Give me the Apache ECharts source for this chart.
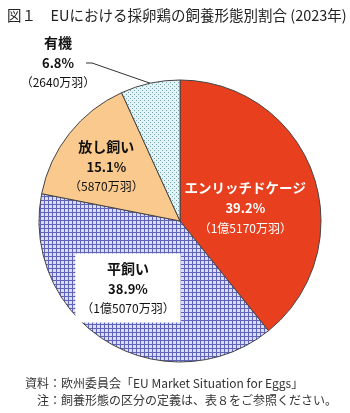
<!DOCTYPE html>
<html><head><meta charset="utf-8">
<script src="https://cdn.jsdelivr.net/npm/echarts@6/dist/echarts.min.js"></script>
<style>html,body{margin:0;padding:0;background:#fff}#c{width:350px;height:413px}</style>
</head><body><div id="c"></div>
<script>
const categories = ['エンリッチドケージ', '平飼い', '放し飼い', '有機'];
const shares = [39.2, 38.9, 15.1, 6.8];
const counts = ['1億5170万羽', '1億5070万羽', '5870万羽', '2640万羽'];
const titleText = '図１　EUにおける採卵鶏の飼養形態別割合 (2023年)';
const notes = ['資料：欧州委員会「EU Market Situation for Eggs」', '注：飼養形態の区分の定義は、表８をご参照ください。'];

function makePattern(kind) {
  const c = document.createElement('canvas');
  const ctx = c.getContext('2d');
  if (kind === 'grid') {
    c.width = 4; c.height = 4;
    ctx.fillStyle = '#d9dcf2'; ctx.fillRect(0, 0, 4, 4);
    ctx.fillStyle = '#5f64b8';
    ctx.fillRect(0, 0, 4, 1); ctx.fillRect(0, 0, 1, 4);
  } else {
    c.width = 4; c.height = 4;
    ctx.fillStyle = '#e4f4f6'; ctx.fillRect(0, 0, 4, 4);
    ctx.fillStyle = '#6fa6b0';
    ctx.fillRect(0, 0, 1, 1); ctx.fillRect(2, 2, 1, 1);
  }
  return { image: c, repeat: 'repeat' };
}

const fills = ['#e8401e', makePattern('grid'), '#f9c98d', makePattern('dots')];
const FONT = '"Noto Sans CJK JP", sans-serif';

function labelFor(i) {
  const white = i === 0;
  const col = white ? '#fff' : '#111';
  const base = {
    show: true,
    position: i === 3 ? 'outside' : 'inside',
    fontFamily: FONT,
    lineHeight: 20,
    formatter: p => '{n|' + p.name + '}\n{v|' + p.value + '%}\n{c|（' + counts[p.dataIndex] + '）}',
    rich: {
      n: { fontFamily: FONT, fontSize: i === 0 ? 13.5 : 14, fontWeight: 'bold', color: col, lineHeight: 21, align: 'center' },
      v: { fontFamily: FONT, fontSize: 13, fontWeight: 'bold', color: col, lineHeight: 20, align: 'center' },
      c: { fontFamily: FONT, fontSize: 12, color: col, lineHeight: 19, align: 'center' }
    }
  };
  if (i === 0) base.offset = [-4, 11];
  if (i === 1) { base.offset = [-14, 4]; base.backgroundColor = '#fff'; base.padding = [5, 6, 4, 6]; }
  if (i === 2) base.offset = [-16, -9];
  return base;
}

const chart = echarts.init(document.getElementById('c'), null, { renderer: 'canvas' });
chart.setOption({
  animation: false,
  backgroundColor: '#fff',
  title: {
    text: titleText, left: 2, top: 3,
    textStyle: { fontFamily: FONT, fontSize: 14.5, fontWeight: 'normal', color: '#222' }
  },
  graphic: [
    { type: 'text', left: 25, top: 377, style: { text: notes[0], font: '12px ' + FONT, fill: '#333' } },
    { type: 'text', left: 37, top: 394, style: { text: notes[1], font: '12px ' + FONT, fill: '#333' } }
  ],
  series: [{
    type: 'pie',
    center: [180, 221],
    radius: 141,
    startAngle: 90,
    clockwise: true,
    avoidLabelOverlap: false,
    itemStyle: { borderColor: '#444', borderWidth: 1 },
    labelLine: { show: true, lineStyle: { color: '#333', width: 1 }, length: 10, length2: 10 },
    labelLayout: function (params) {
      if (params.dataIndex !== 3) return {};
      const lx = 58, ly = 62;
      const p0 = params.labelLinePoints ? params.labelLinePoints[0] : [150, 83];
      return {
        x: lx, y: ly, align: 'center', verticalAlign: 'middle',
        labelLinePoints: [p0, [lx + 34, ly + 1], [lx + 28, ly + 1]]
      };
    },
    data: categories.map((name, i) => ({
      name: name, value: shares[i],
      itemStyle: { color: fills[i] },
      label: labelFor(i),
      labelLine: { show: i === 3 }
    }))
  }]
});
</script></body></html>
